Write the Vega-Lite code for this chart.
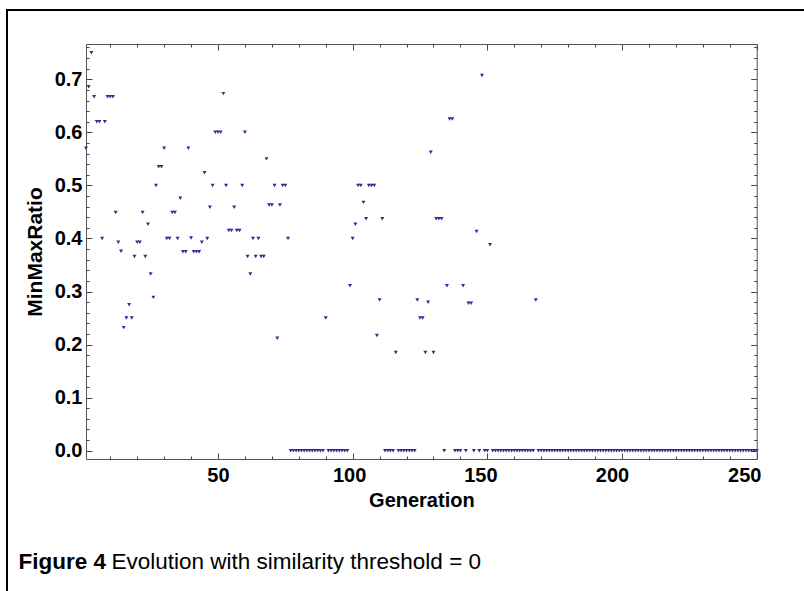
{
  "$schema": "https://vega.github.io/schema/vega-lite/v6.json",
  "width": 800,
  "height": 584,
  "padding": {"left": 7, "top": 10, "right": 0, "bottom": 0},
  "background": "white",
  "view": {"stroke": "black", "strokeWidth": 2, "fill": "white"},
  "config": {
    "font": "Liberation Sans",
    "axis": {"grid": false, "domainColor": "#555", "tickColor": "#444", "labelColor": "black", "titleColor": "black", "labelFont": "Liberation Sans", "titleFont": "Liberation Sans"}
  },
  "data": {"values": [
    {"g":1,"r":0.57},{"g":2,"r":0.686},{"g":3,"r":0.75},{"g":4,"r":0.667},{"g":5,"r":0.62},{"g":6,"r":0.62},{"g":7,"r":0.4},{"g":8,"r":0.62},{"g":9,"r":0.667},{"g":10,"r":0.667},
    {"g":11,"r":0.667},{"g":12,"r":0.449},{"g":13,"r":0.393},{"g":14,"r":0.376},{"g":15,"r":0.232},{"g":16,"r":0.25},{"g":17,"r":0.275},{"g":18,"r":0.25},{"g":19,"r":0.366},{"g":20,"r":0.393},
    {"g":21,"r":0.393},{"g":22,"r":0.449},{"g":23,"r":0.366},{"g":24,"r":0.427},{"g":25,"r":0.333},{"g":26,"r":0.289},{"g":27,"r":0.5},{"g":28,"r":0.535},{"g":29,"r":0.535},{"g":30,"r":0.57},
    {"g":31,"r":0.4},{"g":32,"r":0.4},{"g":33,"r":0.449},{"g":34,"r":0.449},{"g":35,"r":0.4},{"g":36,"r":0.476},{"g":37,"r":0.375},{"g":38,"r":0.375},{"g":39,"r":0.57},{"g":40,"r":0.401},
    {"g":41,"r":0.375},{"g":42,"r":0.375},{"g":43,"r":0.375},{"g":44,"r":0.393},{"g":45,"r":0.524},{"g":46,"r":0.4},{"g":47,"r":0.459},{"g":48,"r":0.5},{"g":49,"r":0.6},{"g":50,"r":0.6},
    {"g":51,"r":0.6},{"g":52,"r":0.673},{"g":53,"r":0.5},{"g":54,"r":0.415},{"g":55,"r":0.415},{"g":56,"r":0.459},{"g":57,"r":0.415},{"g":58,"r":0.415},{"g":59,"r":0.5},{"g":60,"r":0.6},
    {"g":61,"r":0.366},{"g":62,"r":0.333},{"g":63,"r":0.4},{"g":64,"r":0.366},{"g":65,"r":0.4},{"g":66,"r":0.366},{"g":67,"r":0.366},{"g":68,"r":0.55},{"g":69,"r":0.463},{"g":70,"r":0.463},
    {"g":71,"r":0.5},{"g":72,"r":0.212},{"g":73,"r":0.463},{"g":74,"r":0.5},{"g":75,"r":0.5},{"g":76,"r":0.4},{"g":77,"r":0},{"g":78,"r":0},{"g":79,"r":0},{"g":80,"r":0},
    {"g":81,"r":0},{"g":82,"r":0},{"g":83,"r":0},{"g":84,"r":0},{"g":85,"r":0},{"g":86,"r":0},{"g":87,"r":0},{"g":88,"r":0},{"g":89,"r":0},{"g":90,"r":0.25},
    {"g":91,"r":0},{"g":92,"r":0},{"g":93,"r":0},{"g":94,"r":0},{"g":95,"r":0},{"g":96,"r":0},{"g":97,"r":0},{"g":98,"r":0},{"g":99,"r":0.311},{"g":100,"r":0.4},
    {"g":101,"r":0.427},{"g":102,"r":0.5},{"g":103,"r":0.5},{"g":104,"r":0.468},{"g":105,"r":0.437},{"g":106,"r":0.5},{"g":107,"r":0.5},{"g":108,"r":0.5},{"g":109,"r":0.217},{"g":110,"r":0.284},
    {"g":111,"r":0.437},{"g":112,"r":0},{"g":113,"r":0},{"g":114,"r":0},{"g":115,"r":0},{"g":116,"r":0.185},{"g":117,"r":0},{"g":118,"r":0},{"g":119,"r":0},{"g":120,"r":0},
    {"g":121,"r":0},{"g":122,"r":0},{"g":123,"r":0},{"g":124,"r":0.284},{"g":125,"r":0.25},{"g":126,"r":0.25},{"g":127,"r":0.185},{"g":128,"r":0.28},{"g":129,"r":0.5625},{"g":130,"r":0.185},
    {"g":131,"r":0.437},{"g":132,"r":0.437},{"g":133,"r":0.437},{"g":134,"r":0},{"g":135,"r":0.311},{"g":136,"r":0.625},{"g":137,"r":0.625},{"g":138,"r":0},{"g":139,"r":0},{"g":140,"r":0},
    {"g":141,"r":0.311},{"g":142,"r":0},{"g":143,"r":0.278},{"g":144,"r":0.278},{"g":145,"r":0},{"g":146,"r":0.413},{"g":147,"r":0},{"g":148,"r":0.707},{"g":149,"r":0},{"g":150,"r":0},
    {"g":151,"r":0.388},{"g":152,"r":0},{"g":153,"r":0},{"g":154,"r":0},{"g":155,"r":0},{"g":156,"r":0},{"g":157,"r":0},{"g":158,"r":0},{"g":159,"r":0},{"g":160,"r":0},
    {"g":161,"r":0},{"g":162,"r":0},{"g":163,"r":0},{"g":164,"r":0},{"g":165,"r":0},{"g":166,"r":0},{"g":167,"r":0},{"g":168,"r":0.284},{"g":169,"r":0},{"g":170,"r":0},
    {"g":171,"r":0},{"g":172,"r":0},{"g":173,"r":0},{"g":174,"r":0},{"g":175,"r":0},{"g":176,"r":0},{"g":177,"r":0},{"g":178,"r":0},{"g":179,"r":0},{"g":180,"r":0},
    {"g":181,"r":0},{"g":182,"r":0},{"g":183,"r":0},{"g":184,"r":0},{"g":185,"r":0},{"g":186,"r":0},{"g":187,"r":0},{"g":188,"r":0},{"g":189,"r":0},{"g":190,"r":0},
    {"g":191,"r":0},{"g":192,"r":0},{"g":193,"r":0},{"g":194,"r":0},{"g":195,"r":0},{"g":196,"r":0},{"g":197,"r":0},{"g":198,"r":0},{"g":199,"r":0},{"g":200,"r":0},
    {"g":201,"r":0},{"g":202,"r":0},{"g":203,"r":0},{"g":204,"r":0},{"g":205,"r":0},{"g":206,"r":0},{"g":207,"r":0},{"g":208,"r":0},{"g":209,"r":0},{"g":210,"r":0},
    {"g":211,"r":0},{"g":212,"r":0},{"g":213,"r":0},{"g":214,"r":0},{"g":215,"r":0},{"g":216,"r":0},{"g":217,"r":0},{"g":218,"r":0},{"g":219,"r":0},{"g":220,"r":0},
    {"g":221,"r":0},{"g":222,"r":0},{"g":223,"r":0},{"g":224,"r":0},{"g":225,"r":0},{"g":226,"r":0},{"g":227,"r":0},{"g":228,"r":0},{"g":229,"r":0},{"g":230,"r":0},
    {"g":231,"r":0},{"g":232,"r":0},{"g":233,"r":0},{"g":234,"r":0},{"g":235,"r":0},{"g":236,"r":0},{"g":237,"r":0},{"g":238,"r":0},{"g":239,"r":0},{"g":240,"r":0},
    {"g":241,"r":0},{"g":242,"r":0},{"g":243,"r":0},{"g":244,"r":0},{"g":245,"r":0},{"g":246,"r":0},{"g":247,"r":0},{"g":248,"r":0},{"g":249,"r":0},{"g":250,"r":0}
  ]},
  "layer": [
    {
      "mark": {"type": "point", "opacity": 0},
      "encoding": {
        "x": {"field": "g", "type": "quantitative",
          "scale": {"domain": [1, 250], "range": [79, 749.7], "nice": false, "zero": false},
          "axis": {"orient": "top", "offset": -34, "title": null, "labels": false,
            "values": [10,20,30,40,50,60,70,80,90,100,110,120,130,140,150,160,170,180,190,200,210,220,230,240,250],
            "tickSize": {"condition": {"test": "datum.value % 50 === 0", "value": -6}, "value": -3}}},
        "y": {"field": "r", "type": "quantitative",
          "scale": {"domain": [-0.0156, 0.7665], "range": [449, 34], "nice": false, "zero": false},
          "axis": {"orient": "right", "offset": -50.3, "title": null, "labels": false,
            "values": [0,0.02,0.04,0.06,0.08,0.1,0.12,0.14,0.16,0.18,0.2,0.22,0.24,0.26,0.28,0.3,0.32,0.34,0.36,0.38,0.4,0.42,0.44,0.46,0.48,0.5,0.52,0.54,0.56,0.58,0.6,0.62,0.64,0.66,0.68,0.7,0.72,0.74,0.76],
            "tickSize": {"condition": {"test": "abs(datum.value*10 - round(datum.value*10)) < 0.001", "value": -6}, "value": -3}}}
      }
    },
    {
      "mark": {"type": "point", "opacity": 0},
      "encoding": {
        "x": {"field": "g", "type": "quantitative",
          "scale": {"domain": [1, 250], "range": [79, 749.7], "nice": false, "zero": false},
          "axis": {"orient": "bottom", "offset": 0, "domain": false, "ticks": false, "labels": false,
            "title": "Figure 4", "titleFontSize": 22.5, "titleFontWeight": "bold", "titleX": 11, "titleY": -26, "titleAlign": "left", "titleBaseline": "alphabetic"}},
        "y": {"field": "r", "type": "quantitative", "scale": {"domain": [-0.0156, 0.7665], "range": [449, 34], "nice": false, "zero": false}, "axis": null}
      }
    },
    {
      "mark": {"type": "point", "opacity": 0},
      "encoding": {
        "x": {"field": "g", "type": "quantitative",
          "scale": {"domain": [1, 250], "range": [79, 749.7], "nice": false, "zero": false},
          "axis": {"orient": "bottom", "offset": 0, "domain": false, "ticks": false, "labels": false,
            "title": "Evolution with similarity threshold = 0", "titleFontSize": 22.5, "titleFontWeight": "normal", "titleX": 104, "titleY": -26, "titleAlign": "left", "titleBaseline": "alphabetic"}},
        "y": {"field": "r", "type": "quantitative", "scale": {"domain": [-0.0156, 0.7665], "range": [449, 34], "nice": false, "zero": false}, "axis": null}
      }
    },
    {
      "mark": {"type": "point", "shape": "triangle-down", "filled": true, "size": 16, "color": "#2e2e96", "opacity": 1},
      "encoding": {
        "x": {"field": "g", "type": "quantitative",
          "scale": {"domain": [1, 250], "range": [79, 749.7], "nice": false, "zero": false},
          "axis": {"orient": "bottom", "offset": -135, "title": "Generation",
            "values": [10,20,30,40,50,60,70,80,90,100,110,120,130,140,150,160,170,180,190,200,210,220,230,240,250],
            "labelExpr": "datum.value % 50 === 0 ? datum.label : ''",
            "labelFontSize": 20, "labelFontWeight": "bold", "labelPadding": 12.5, "labelFlush": false, "labelOverlap": false,
            "labelOffset": {"condition": [{"test": "datum.value === 100", "value": -3.5}, {"test": "datum.value === 150", "value": -7}, {"test": "datum.value === 200", "value": -10}, {"test": "datum.value === 250", "value": -12.5}], "value": 0},
            "titleFontSize": 20, "titleFontWeight": "bold", "titlePadding": 1.5,
            "tickSize": {"condition": {"test": "datum.value % 50 === 0", "value": -6}, "value": -3}}},
        "y": {"field": "r", "type": "quantitative",
          "scale": {"domain": [-0.0156, 0.7665], "range": [449, 34], "nice": false, "zero": false},
          "axis": {"orient": "left", "offset": -79, "title": "MinMaxRatio",
            "values": [0,0.02,0.04,0.06,0.08,0.1,0.12,0.14,0.16,0.18,0.2,0.22,0.24,0.26,0.28,0.3,0.32,0.34,0.36,0.38,0.4,0.42,0.44,0.46,0.48,0.5,0.52,0.54,0.56,0.58,0.6,0.62,0.64,0.66,0.68,0.7,0.72,0.74,0.76],
            "labelExpr": "abs(datum.value*10 - round(datum.value*10)) < 0.001 ? format(datum.value, '.1f') : ''",
            "labelFontSize": 20, "labelFontWeight": "bold", "labelPadding": 10, "labelFlush": false, "labelOverlap": false,
            "titleFontSize": 21, "titleFontWeight": "bold", "titlePadding": 9,
            "tickSize": {"condition": {"test": "abs(datum.value*10 - round(datum.value*10)) < 0.001", "value": -6}, "value": -3}}}
      }
    }
  ],
  "resolve": {"axis": {"x": "independent", "y": "independent"}}
}
